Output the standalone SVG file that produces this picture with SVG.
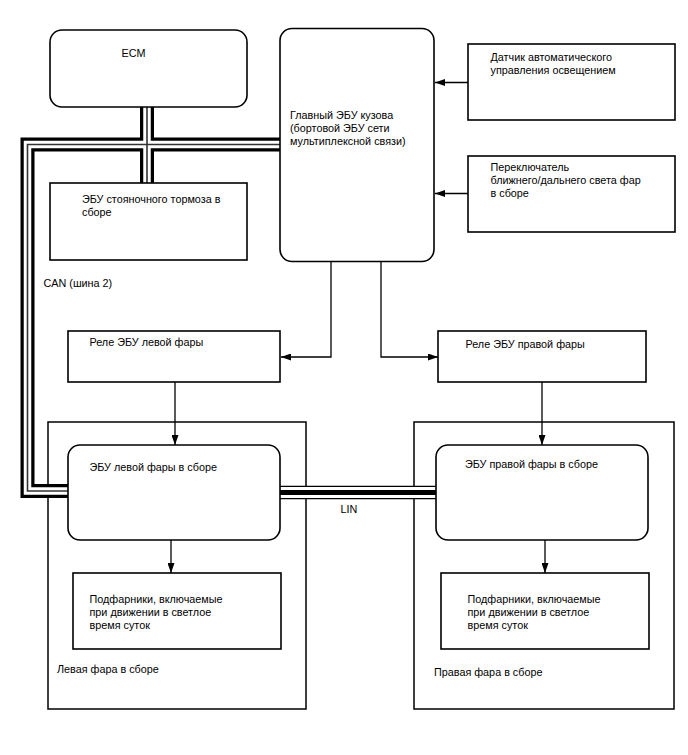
<svg xmlns="http://www.w3.org/2000/svg" width="688" height="755" viewBox="0 0 688 755">
<style>
  .box { fill: #fff; stroke: #000; stroke-width: 1.6; }
  .frame { fill: none; stroke: #000; stroke-width: 1.5; }
  .t { font-family: "Liberation Sans", Arial, sans-serif; font-size: 10.8px; fill: #000; }
  .ln { fill: none; stroke: #000; stroke-width: 1.3; }
  .busB { fill: none; stroke: #000; stroke-width: 14; stroke-linejoin: miter; }
  .busW { fill: none; stroke: #fff; stroke-width: 7.5; stroke-linejoin: miter; }
  .busC { fill: none; stroke: #333; stroke-width: 1.6; stroke-linejoin: miter; }
</style>
<defs>
  <marker id="arr" markerUnits="userSpaceOnUse" markerWidth="10" markerHeight="7" refX="10" refY="3.5" orient="auto">
    <path d="M0,0 L10,3.5 L0,7 z" fill="#000"/>
  </marker>
</defs>
<rect width="688" height="755" fill="#fff"/>

<g id="left-headlamp-assy">
  <rect class="frame" x="48" y="422" width="258" height="287"/>
  <text class="t" x="57" y="673">Левая фара в сборе</text>
</g>
<g id="right-headlamp-assy">
  <rect class="frame" x="414" y="422" width="260" height="287"/>
  <text class="t" x="434" y="675.5">Правая фара в сборе</text>
</g>

<g id="connectors">
  <!-- CAN bus -->
  <path class="busB" d="M280,144.5 H27.5 V491 H68"/>
  <path class="busB" d="M147,107 V183"/>
  <path class="busW" d="M280,144.5 H27.5 V491 H68"/>
  <path class="busW" d="M147,107 V183"/>
  <path class="busC" d="M280,144.5 H27.5 V491 H68"/>
  <path class="busC" d="M147,107 V183"/>
  <!-- LIN bus -->
  <path d="M280,492.5 H436" stroke="#000" stroke-width="13.5" fill="none"/>
  <path d="M280,492.5 H436" stroke="#fff" stroke-width="11" fill="none"/>
  <path d="M280,492.5 H436" stroke="#000" stroke-width="5" fill="none"/>
  <!-- arrows -->
  <path class="ln" d="M468,82.5 H435" marker-end="url(#arr)"/>
  <path class="ln" d="M468,193.5 H435" marker-end="url(#arr)"/>
  <path class="ln" d="M331,262 V357 H281" marker-end="url(#arr)"/>
  <path class="ln" d="M381,262 V357 H438" marker-end="url(#arr)"/>
  <path class="ln" d="M175,382 V445" marker-end="url(#arr)"/>
  <path class="ln" d="M542,382 V445" marker-end="url(#arr)"/>
  <path class="ln" d="M171,540 V573" marker-end="url(#arr)"/>
  <path class="ln" d="M545,540 V573" marker-end="url(#arr)"/>
</g>

<g id="ecm">
  <rect class="box" x="50" y="30" width="197" height="77" rx="12"/>
  <text class="t" x="121.5" y="57">ECM</text>
</g>
<g id="body-ecu">
  <rect class="box" x="280" y="28.5" width="154" height="233" rx="12"/>
  <text class="t" x="290" y="119.3">Главный ЭБУ кузова</text>
  <text class="t" x="290" y="132.3">(бортовой ЭБУ сети</text>
  <text class="t" x="290" y="145.3">мультиплексной связи)</text>
</g>
<g id="light-sensor">
  <rect class="box" x="468" y="44" width="207" height="76"/>
  <text class="t" x="490.5" y="61">Датчик автоматического</text>
  <text class="t" x="490.5" y="74">управления освещением</text>
</g>
<g id="dimmer-switch">
  <rect class="box" x="468" y="156" width="207" height="76"/>
  <text class="t" x="490.5" y="170.5">Переключатель</text>
  <text class="t" x="490.5" y="183.5">ближнего/дальнего света фар</text>
  <text class="t" x="490.5" y="196.5">в сборе</text>
</g>
<g id="parking-brake-ecu">
  <rect class="box" x="50" y="183" width="197" height="77"/>
  <text class="t" x="82" y="202.7">ЭБУ стояночного тормоза в</text>
  <text class="t" x="82" y="215.5">сборе</text>
</g>
<g id="can-label">
  <text class="t" x="43.5" y="286.7">CAN (шина 2)</text>
</g>
<g id="left-relay">
  <rect class="box" x="68" y="331" width="212" height="51"/>
  <text class="t" x="89.5" y="346">Реле ЭБУ левой фары</text>
</g>
<g id="right-relay">
  <rect class="box" x="438" y="331" width="208" height="51"/>
  <text class="t" x="465.5" y="348">Реле ЭБУ правой фары</text>
</g>
<g id="left-ecu">
  <rect class="box" x="68" y="445" width="212" height="95" rx="12"/>
  <text class="t" x="89.5" y="470.5">ЭБУ левой фары в сборе</text>
</g>
<g id="right-ecu">
  <rect class="box" x="436" y="445" width="212" height="95" rx="12"/>
  <text class="t" x="465" y="467.5">ЭБУ правой фары в сборе</text>
</g>
<g id="lin-label">
  <text class="t" x="340.5" y="512.7">LIN</text>
</g>
<g id="left-drl">
  <rect class="box" x="73" y="573" width="208" height="76"/>
  <text class="t" x="89.5" y="602.7">Подфарники, включаемые</text>
  <text class="t" x="89.5" y="615.7">при движении в светлое</text>
  <text class="t" x="89.5" y="628.7">время суток</text>
</g>
<g id="right-drl">
  <rect class="box" x="441" y="573" width="208" height="76"/>
  <text class="t" x="467.5" y="602.7">Подфарники, включаемые</text>
  <text class="t" x="467.5" y="615.7">при движении в светлое</text>
  <text class="t" x="467.5" y="628.7">время суток</text>
</g>
</svg>
